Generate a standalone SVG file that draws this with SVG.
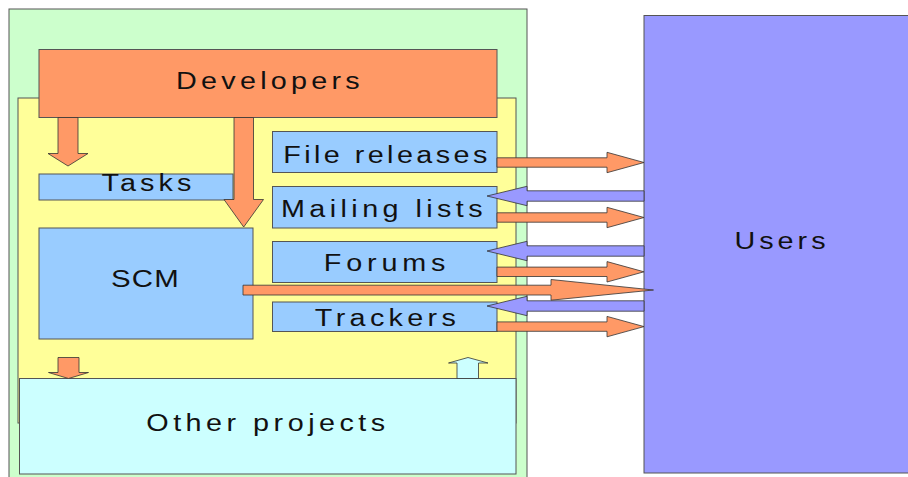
<svg xmlns="http://www.w3.org/2000/svg" width="908" height="477" viewBox="0 0 908 477">
  <style>
    .box { stroke: #555; stroke-width: 1; }
    .arrow { stroke: #333; stroke-width: 0.8; stroke-linejoin: miter; }
    .out { fill: #ff9966; }
    .in { fill: #9999ff; }
    .back { fill: #ccffff; }
    .label { font-family: "Liberation Sans", Arial, sans-serif; font-size: 23px; fill: #111; text-anchor: middle; }
  </style>
  <rect width="908" height="477" fill="#ffffff"/>

  <!-- project area -->
  <g id="project">
    <rect class="box" x="9" y="9" width="518" height="475" fill="#ccffcc"/>
    <rect class="box" x="18" y="98" width="498" height="325" fill="#ffff99"/>
  </g>

  <g id="other-projects">
    <rect class="box" x="19.5" y="378.5" width="496.5" height="95.5" fill="#ccffff"/>
    <text class="label" transform="translate(268,430.5) scale(1.25,1)" letter-spacing="3.6">Other projects</text>
  </g>

  <g id="developers">
    <rect class="box" x="39" y="49.5" width="458" height="68" fill="#ff9966"/>
    <text class="label" transform="translate(270,88.5) scale(1.25,1)" letter-spacing="3.4">Developers</text>
  </g>

  <g id="tasks">
    <rect class="box" x="39" y="174" width="194" height="26" fill="#99ccff"/>
    <text class="label" transform="translate(148.5,190.7) scale(1.25,1)" letter-spacing="3.3">Tasks</text>
  </g>

  <g id="scm">
    <rect class="box" x="39" y="228" width="214" height="111" fill="#99ccff"/>
    <text class="label" transform="translate(145.5,286.7) scale(1.28,1)" letter-spacing="1">SCM</text>
  </g>

  <g id="file-releases">
    <rect class="box" x="272.5" y="131.5" width="224.5" height="41" fill="#99ccff"/>
    <text class="label" transform="translate(387,163.3) scale(1.25,1)" letter-spacing="2.75">File releases</text>
  </g>

  <g id="mailing-lists">
    <rect class="box" x="272.5" y="186.5" width="224.5" height="41.5" fill="#99ccff"/>
    <text class="label" transform="translate(384,217.3) scale(1.25,1)" letter-spacing="3.55">Mailing lists</text>
  </g>

  <g id="forums">
    <rect class="box" x="272.5" y="241.5" width="224.5" height="41" fill="#99ccff"/>
    <text class="label" transform="translate(387,271) scale(1.25,1)" letter-spacing="3.86">Forums</text>
  </g>

  <g id="trackers">
    <rect class="box" x="272.5" y="302" width="224.5" height="29.5" fill="#99ccff"/>
    <text class="label" transform="translate(387.5,326) scale(1.25,1)" letter-spacing="3.46">Trackers</text>
  </g>

  <g id="users">
    <rect class="box" x="644" y="15.5" width="270" height="457.5" fill="#9999ff"/>
    <text class="label" transform="translate(782,248.5) scale(1.25,1)" letter-spacing="3.2">Users</text>
  </g>

  <!-- block arrows between areas -->
  <g id="connectors">
    <!-- developers down to tasks and scm -->
    <path class="arrow out" d="M58,117.5 H78 V153.5 H88 L68,166 L48,153.5 H58 Z"/>
    <path class="arrow out" d="M234,117.5 H253.5 V199.5 H263.5 L243.7,227 L224,199.5 H234 Z"/>
    <!-- project to / from other projects -->
    <path class="arrow out" d="M58,357.5 H79 V372.5 H88.5 L68.5,378.5 L48.5,372.5 H58 Z"/>
    <path class="arrow back" d="M457,378.5 V363 H448.5 L468,357.5 L488,363 H478.5 V378.5 Z"/>
    <!-- outgoing to users -->
    <path class="arrow out" d="M497,157.8 H607 V152.3 L644,162.5 L607,172.7 V167.2 H497 Z"/>
    <path class="arrow out" d="M497,212.8 H607 V207.3 L644,217.5 L607,227.7 V222.2 H497 Z"/>
    <path class="arrow out" d="M497,267.1 H607 V261.6 L644,271.8 L607,282 V276.5 H497 Z"/>
    <path class="arrow out" d="M497,321.9 H607 V316.4 L644,326.6 L607,336.8 V331.3 H497 Z"/>
    <!-- incoming from users -->
    <path class="arrow in" d="M644,190.8 H527 V186.3 L487,196 L527,205.7 V201.2 H644 Z"/>
    <path class="arrow in" d="M644,245.8 H527 V241.3 L487,251 L527,260.7 V256.2 H644 Z"/>
    <path class="arrow in" d="M644,300.8 H527 V296.3 L487,306 L527,315.7 V311.2 H644 Z"/>
    <!-- scm straight to users -->
    <path class="arrow out" d="M243,285.2 H551 V279.5 L653.5,290 L551,300.2 V295 H243 Z"/>
  </g>
</svg>
